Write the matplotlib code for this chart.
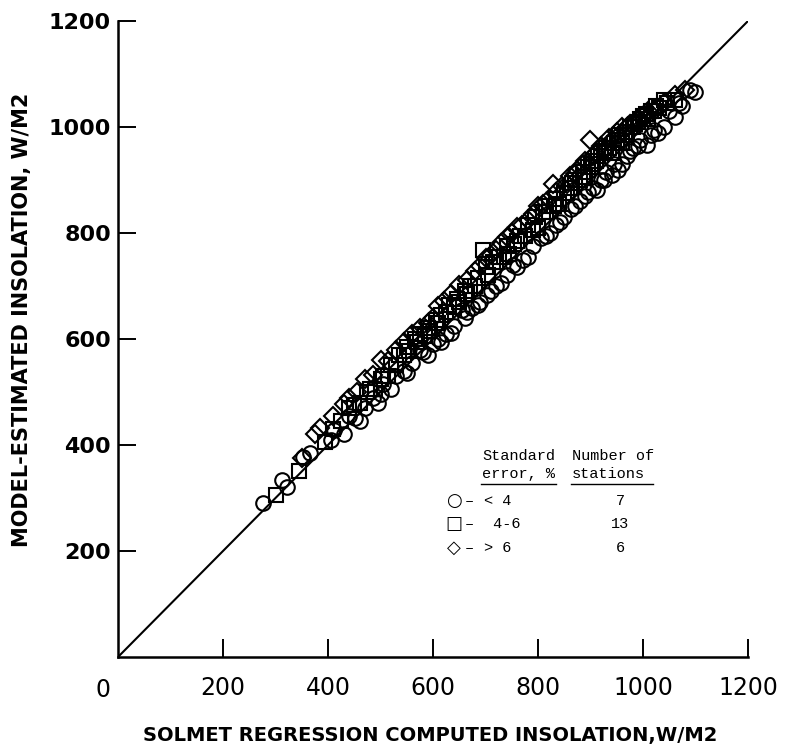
import matplotlib
matplotlib.use("Agg")
import matplotlib.pyplot as plt

# ---- data ----
circle_x = [276, 312, 322, 352, 365, 405, 412, 430, 440, 452, 460, 470, 485, 495, 500,
            505, 520, 530, 545, 550, 560, 575, 580, 590, 600, 610, 615, 625, 635, 640,
            655, 660, 665, 674, 685, 690, 703, 710, 720, 730, 740, 752, 760, 771, 780,
            790, 805, 815, 823, 835, 842, 850, 862, 870, 880, 890, 895, 905, 912, 920,
            925, 930, 940, 945, 952, 960, 970, 975, 980, 990, 995, 1008, 1015, 1020,
            1029, 1040, 1050, 1061, 1068, 1075, 1090, 1099]
circle_y = [290, 334, 321, 377, 385, 410, 428, 420, 455, 450, 445, 470, 488, 480, 497,
            515, 505, 530, 540, 535, 555, 580, 575, 570, 590, 600, 595, 610, 612, 625,
            655, 640, 650, 658, 665, 670, 683, 690, 700, 705, 720, 740, 735, 749, 755,
            775, 790, 795, 800, 815, 821, 830, 845, 850, 860, 870, 878, 885, 881, 900,
            900, 915, 910, 930, 919, 930, 945, 955, 960, 965, 975, 966, 985, 995,
            989, 1000, 1030, 1019, 1045, 1040, 1070, 1066]

square_x = [300, 345, 395, 410, 425, 440, 450, 460, 475, 480, 490, 500, 505, 515, 520,
            530, 535, 545, 550, 555, 565, 570, 575, 585, 590, 595, 605, 610, 615, 625,
            630, 640, 645, 650, 660, 665, 670, 680, 685, 695, 700, 705, 715, 720, 725,
            735, 740, 745, 755, 760, 765, 775, 780, 790, 795, 800, 810, 815, 820, 830,
            835, 840, 850, 855, 860, 865, 870, 880, 885, 890, 895, 900, 905, 910, 915,
            920, 925, 930, 935, 940, 945, 950, 955, 960, 965, 970, 975, 980, 985, 990,
            995, 1000, 1005, 1010, 1015, 1020, 1025, 1030, 1040, 1045, 1060]
square_y = [305, 350, 405, 430, 445, 470, 475, 480, 500, 505, 505, 525, 530, 530, 550,
            550, 570, 570, 585, 578, 600, 595, 610, 605, 620, 615, 635, 630, 645, 650,
            665, 660, 675, 670, 690, 685, 700, 700, 715, 768, 735, 720, 745, 745, 755,
            755, 775, 760, 780, 785, 795, 795, 815, 805, 830, 810, 840, 840, 850, 850,
            865, 855, 875, 875, 885, 895, 900, 900, 915, 905, 925, 930, 935, 935, 945,
            950, 955, 960, 960, 950, 970, 975, 985, 970, 985, 990, 1000, 1000, 1005, 1010,
            1015, 1020, 1025, 1015, 1030, 1030, 1040, 1035, 1050, 1045, 1050]

diamond_x = [350, 375, 385, 410, 430, 440, 455, 470, 485, 500, 515, 530, 545, 560, 575,
             590, 600, 610, 620, 635, 650, 665, 680, 690, 700, 710, 720, 730, 740, 750,
             760, 770, 780, 790, 800, 810, 815, 829, 835, 845, 855, 860, 870, 875, 885,
             890, 899, 905, 910, 920, 930, 935, 940, 950, 955, 960, 970, 975, 985, 990,
             1000, 1010, 1020, 1040, 1060, 1080]
diamond_y = [375, 420, 432, 455, 478, 488, 500, 525, 532, 560, 558, 580, 595, 610, 620,
             630, 640, 662, 672, 685, 702, 712, 728, 738, 752, 758, 768, 782, 792, 800,
             812, 815, 825, 835, 850, 855, 858, 893, 878, 888, 893, 908, 912, 918, 928,
             935, 975, 945, 950, 965, 960, 980, 975, 990, 985, 1000, 1000, 1005, 1010, 1015,
             1020, 1030, 1030, 1045, 1060, 1070]

x_ticks = [200, 400, 600, 800, 1000, 1200]
y_ticks = [200, 400, 600, 800, 1000, 1200]
x_label = "SOLMET REGRESSION COMPUTED INSOLATION,W/M2"
y_label = "MODEL-ESTIMATED INSOLATION, W/M2"

legend_header_1 = ["Standard", "error, %"]
legend_header_2 = ["Number of", "stations"]
legend_symbols = ["\u25CB", "\u25A1", "\u25C7"]
legend_ranges = ["< 4", " 4-6", "> 6"]
legend_counts = ["7", "13", "6"]

# ---- figure ----
W, H = 785, 747
fig = plt.figure(figsize=(W / 100, H / 100), dpi=100)
ax = fig.add_axes([118 / W, 90 / H, 630 / W, 636 / H])
ax.set_xlim(0, 1200)
ax.set_ylim(0, 1200)

for side in ("top", "right"):
    ax.spines[side].set_visible(False)
for side in ("left", "bottom"):
    ax.spines[side].set_linewidth(1.8)

ax.plot([0, 1200], [0, 1200], color="black", lw=1.5, zorder=1)

mk = dict(linestyle="none", markerfacecolor="none", markeredgecolor="black",
          markeredgewidth=1.5, zorder=2)
ax.plot(circle_x, circle_y, marker="o", markersize=10.5, **mk)
ax.plot(square_x, square_y, marker="s", markersize=9.5, **mk)
ax.plot(diamond_x, diamond_y, marker="D", markersize=9, **mk)

ax.set_xticks(x_ticks)
ax.set_yticks(y_ticks)
ax.set_xticklabels([str(v) for v in x_ticks], fontsize=17, family="DejaVu Sans")
ax.set_yticklabels([str(v) for v in y_ticks], fontsize=16, family="DejaVu Sans",
                   fontweight="bold")
ax.tick_params(axis="both", direction="in", length=13, width=1.4)
ax.tick_params(axis="x", pad=14)
ax.tick_params(axis="y", pad=5)

# origin label
ax.annotate("0", xy=(0, 0), xycoords="data", xytext=(-15, -33), textcoords="offset pixels",
            ha="center", va="center", fontsize=17, family="DejaVu Sans")

fig.text(22 / W, 1 - 320 / H, y_label, rotation=90, ha="center", va="center",
         fontsize=15, fontweight="heavy", family="DejaVu Sans")
fig.text(430 / W, 1 - 735 / H, x_label, ha="center", va="center",
         fontsize=14, fontweight="heavy", family="DejaVu Sans")

# ---- legend block (typewriter) ----
mono = dict(family="Liberation Mono", fontsize=11, va="center")
def fx(px):
    return px / W
def fy(py):
    return 1 - py / H

fig.text(fx(482), fy(456), legend_header_1[0], ha="left", **mono)
fig.text(fx(482), fy(474), legend_header_1[1], ha="left", **mono)
fig.text(fx(572), fy(456), legend_header_2[0], ha="left", **mono)
fig.text(fx(572), fy(474), legend_header_2[1], ha="left", **mono)
fig.add_artist(plt.Line2D([fx(481), fx(556)], [fy(484), fy(484)], color="black", lw=1.0))
fig.add_artist(plt.Line2D([fx(571), fx(653)], [fy(484), fy(484)], color="black", lw=1.0))

rows_y = [501, 524, 548]
for sym, rng, cnt, ry in zip(legend_symbols, legend_ranges, legend_counts, rows_y):
    fig.text(fx(454), fy(ry), sym, ha="center", family="DejaVu Sans", fontsize=13,
             va="center")
    fig.text(fx(469), fy(ry), "\u2013", ha="center", **mono)
    fig.text(fx(484), fy(ry), rng, ha="left", **mono)
    fig.text(fx(620), fy(ry), cnt, ha="center", **mono)

fig.savefig("out.png", dpi=100, facecolor="white")
